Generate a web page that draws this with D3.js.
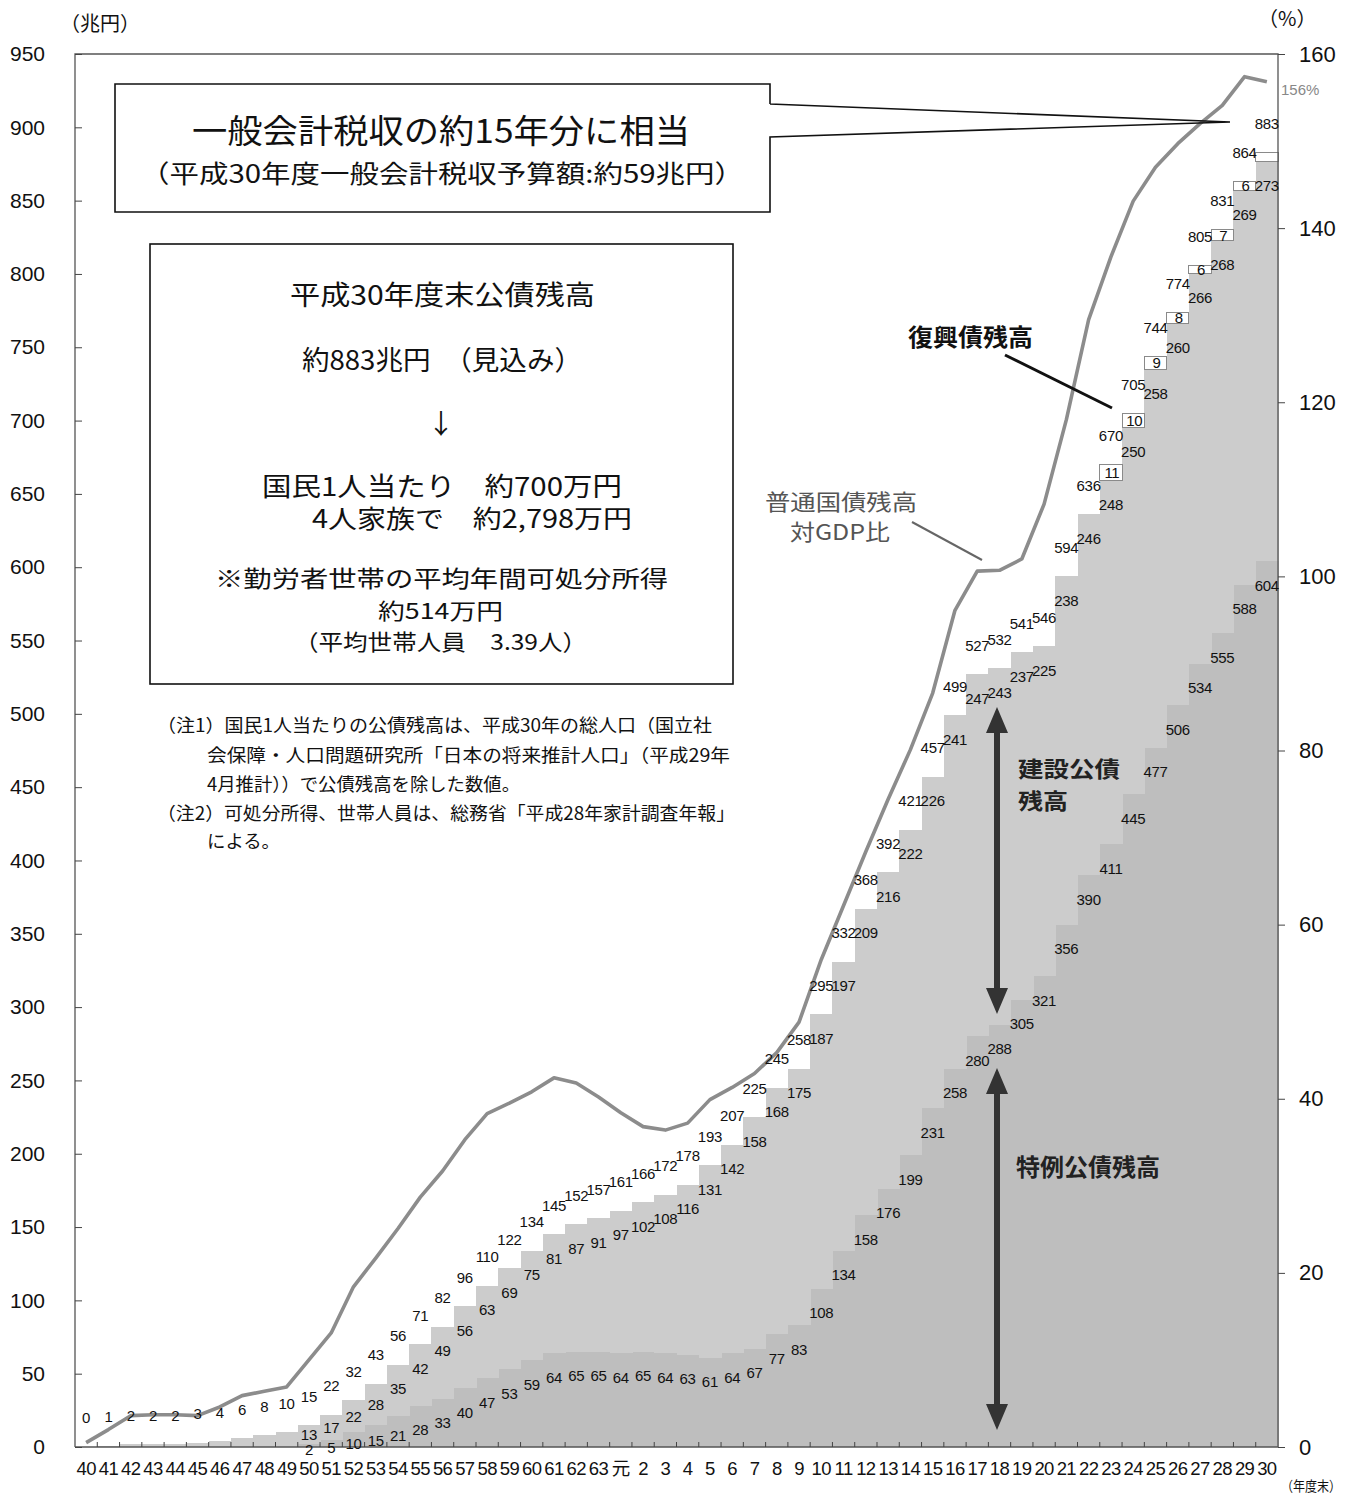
<!DOCTYPE html>
<html><head><meta charset="utf-8">
<script src="https://cdn.jsdelivr.net/npm/d3@7"></script>
<style>body{margin:0;background:#fff}svg{display:block}</style>
</head><body><svg id="c" width="1352" height="1496"></svg>
<script>
// ---- data (兆円 / %) ----
const years = ["40","41","42","43","44","45","46","47","48","49","50","51","52","53","54","55","56","57","58","59","60","61","62","63",
  "元","2","3","4","5","6","7","8","9","10","11","12","13","14","15","16","17","18","19","20","21","22","23","24","25","26","27","28","29","30"];
const construction = [0.3,1,2,2,2,3,4,6,8,10, 13,17,22,28,35,42,49,56,63,69,75,81,87,91,
  97,102,108,116,131,142,158,168,175,187,197,209,216,222,226,241,247,243,237,225,238,246,248,250,258,260,266,268,269,273];
const special = [0,0,0,0,0,0,0,0,0,0, 2,5,10,15,21,28,33,40,47,53,59,64,65,65,
  64,65,64,63,61,64,67,77,83,108,134,158,176,199,231,258,280,288,305,321,356,390,411,445,477,506,534,555,588,604];
const reconstruction = [0,0,0,0,0,0,0,0,0,0, 0,0,0,0,0,0,0,0,0,0,0,0,0,0,
  0,0,0,0,0,0,0,0,0,0,0,0,0,0,0,0,0,0,0,0,0,0,11,10,9,8,6,7,6,6];
const totals = [0,1,2,2,2,3,4,6,8,10, 15,22,32,43,56,71,82,96,110,122,134,145,152,157,
  161,166,172,178,193,207,225,245,258,295,332,368,392,421,457,499,527,532,541,546,594,636,670,705,744,774,805,831,864,883];
const gdpRatio = [0.5,2.0,3.6,3.7,3.7,3.6,4.6,5.9,6.4,6.9, 10.0,13.1,18.4,21.7,25.1,28.7,31.7,35.3,38.3,39.5,40.8,42.4,41.8,40.2,
  38.4,36.8,36.4,37.2,39.9,41.3,42.9,45.3,48.8,56.0,62.2,68.4,74.4,80.1,86.6,96.1,100.6,100.7,102.0,108.3,118.0,129.5,136.7,143.1,147.0,149.7,152.0,154.1,157.4,156.8];
const leftTicks = d3.range(0, 951, 50);
const rightTicks = d3.range(0, 161, 20);

// ---- layout ----
const svg = d3.select("#c");
const L = 75, R = 1278, T = 54, B = 1447;
const NUM = "'Liberation Sans', Arial, sans-serif";
const JP = "'Noto Sans CJK JP', sans-serif";

const x = d3.scaleBand().domain(years).range([L, R]).padding(0);
const y = d3.scaleLinear().domain([0, 950]).range([B, T]);
const y2 = d3.scaleLinear().domain([0, 160]).range([B, T]);
const bw = x.bandwidth();
const cx = yr => x(yr) + bw / 2;

const rows = years.map((yr, i) => ({year: yr, special: special[i], construction: construction[i], reconstruction: reconstruction[i]}));
const series = d3.stack().keys(["special", "construction", "reconstruction"])(rows);
const fills = {special: "#bebebe", construction: "#cccccc", reconstruction: "#ffffff"};

const gBars = svg.append("g").attr("shape-rendering", "crispEdges");
series.forEach(s => {
  gBars.append("g").selectAll("rect").data(s.filter(d => d[1] - d[0] > 0)).join("rect")
    .attr("x", d => x(d.data.year))
    .attr("width", bw + (s.key === "reconstruction" ? 0 : 0.6))
    .attr("y", d => y(d[1]))
    .attr("height", d => y(d[0]) - y(d[1]))
    .attr("fill", fills[s.key])
    .attr("stroke", s.key === "reconstruction" ? "#8a8a8a" : "none")
    .attr("stroke-width", 1);
});

// frame
svg.append("path").attr("d", `M${L},${B}V${T}H${R}V${B}H${L}`).attr("fill", "none").attr("stroke", "#555").attr("stroke-width", 1.3);

// bottom ticks at band boundaries (pointing up)
svg.append("g").selectAll("line").data(years.slice(1)).join("line")
  .attr("x1", d => x(d)).attr("x2", d => x(d)).attr("y1", B).attr("y2", B - 5)
  .attr("stroke", "#444").attr("stroke-width", 1);

// axes
const ax = svg.append("g").attr("transform", `translate(${L},0)`)
  .call(d3.axisLeft(y).tickValues(leftTicks).tickSize(-7).tickPadding(30));
ax.select(".domain").remove();
ax.selectAll("text").attr("font-family", NUM).attr("font-size", 21).attr("fill", "#111");
ax.selectAll("line").attr("stroke", "#444");

const ax2 = svg.append("g").attr("transform", `translate(${R},0)`)
  .call(d3.axisRight(y2).tickValues(rightTicks).tickSize(7).tickPadding(14));
ax2.select(".domain").remove();
ax2.selectAll("text").attr("font-family", NUM).attr("font-size", 22).attr("fill", "#111");
ax2.selectAll("line").attr("stroke", "#444");

const axb = svg.append("g").attr("transform", `translate(0,${B})`)
  .call(d3.axisBottom(x).tickSize(0).tickPadding(15));
axb.select(".domain").remove();
axb.selectAll("text").attr("font-family", d => d === "元" ? JP : NUM).attr("font-size", 18.5).attr("fill", "#111")
  .attr("letter-spacing", -0.6);

// GDP ratio line
svg.append("path").datum(years.map((yr, i) => [cx(yr), y2(gdpRatio[i])]))
  .attr("d", d3.line()).attr("fill", "none").attr("stroke", "#8c8c8c").attr("stroke-width", 3.6)
  .attr("stroke-linejoin", "round");

// value labels
const gl = svg.append("g").attr("font-family", NUM).attr("font-size", 15).attr("fill", "#111")
  .attr("text-anchor", "middle").attr("dominant-baseline", "central").attr("letter-spacing", -0.3);
years.forEach((yr, i) => {
  const top = special[i] + construction[i] + reconstruction[i];
  gl.append("text").attr("x", cx(yr)).attr("y", y(top) - 29).text(totals[i]);
  if (special[i] > 0) {
    const cTop = y(special[i] + construction[i]), cBot = y(special[i]);
    gl.append("text").attr("x", cx(yr)).attr("y", Math.min(cTop + 24, (cTop + cBot) / 2)).text(construction[i]);
    const sTop = y(special[i]);
    gl.append("text").attr("x", cx(yr)).attr("y", Math.min(sTop + 24, (sTop + B) / 2 + 4)).text(special[i]);
  }
  if (reconstruction[i] > 0 && i < years.length - 1) {
    const rb = y(special[i] + construction[i]), rt = y(top);
    gl.append("text").attr("x", cx(yr) + 1).attr("y", (rb + rt) / 2).text(reconstruction[i]);
  }
});

// ---- annotations ----
const ann = svg.append("g");
function txt(s, x0, x1, yy, size, opts = {}) {
  const t = ann.append("text").attr("x", (x0 + x1) / 2).attr("y", yy).attr("text-anchor", "middle")
    .attr("dominant-baseline", "central").attr("font-family", opts.family || JP).attr("font-size", size)
    .attr("fill", opts.fill || "#111").attr("font-weight", opts.weight || "normal").text(s);
  if (!opts.noFit) t.attr("textLength", x1 - x0).attr("lengthAdjust", "spacingAndGlyphs");
  return t;
}
// box 1 with callout
ann.append("path").attr("d", "M770,104 L770,84 L115,84 L115,212 L770,212 L770,137 L1230,122 L770,104")
  .attr("fill", "none").attr("stroke", "#111").attr("stroke-width", 1.6);
txt("一般会計税収の約15年分に相当", 192, 690, 129, 33);
txt("（平成30年度一般会計税収予算額:約59兆円）", 140, 744, 172, 25);

// box 2
ann.append("rect").attr("x", 150).attr("y", 244).attr("width", 583).attr("height", 440)
  .attr("fill", "#fff").attr("stroke", "#111").attr("stroke-width", 1.6);
txt("平成30年度末公債残高", 290, 595, 293, 27);
txt("約883兆円　（見込み）", 302, 582, 358, 27);
txt("↓", 430, 452, 422, 27, {noFit: true});
txt("国民1人当たり　約700万円", 262, 622, 484, 26);
txt("4人家族で　約2,798万円", 312, 632, 517, 25);
txt("※勤労者世帯の平均年間可処分所得", 215, 668, 577, 23);
txt("約514万円", 378, 503, 609, 22);
txt("（平均世帯人員　3.39人）", 294, 587, 640, 22);

// notes
function note(s, x0, x1, yy) {
  ann.append("text").attr("x", x0).attr("y", yy).attr("dominant-baseline", "central")
    .attr("font-family", JP).attr("font-size", 18).attr("fill", "#111")
    .attr("textLength", x1 - x0).attr("lengthAdjust", "spacingAndGlyphs").text(s);
}
note("（注1）国民1人当たりの公債残高は、平成30年の総人口（国立社", 157, 712, 724);
note("会保障・人口問題研究所「日本の将来推計人口」（平成29年", 207, 730, 754);
note("4月推計））で公債残高を除した数値。", 207, 520, 783);
note("（注2）可処分所得、世帯人員は、総務省「平成28年家計調査年報」", 157, 735, 812);
note("による。", 207, 280, 840);

// 復興債残高
txt("復興債残高", 908, 1033, 335, 24, {weight: "bold"});
ann.append("line").attr("x1", 1005).attr("y1", 355).attr("x2", 1112).attr("y2", 408)
  .attr("stroke", "#111").attr("stroke-width", 3);

// 普通国債残高 対GDP比
txt("普通国債残高", 765, 917, 500, 22, {fill: "#555"});
txt("対GDP比", 790, 890, 530, 22, {fill: "#555"});
ann.append("line").attr("x1", 912).attr("y1", 522).attr("x2", 982).attr("y2", 560)
  .attr("stroke", "#666").attr("stroke-width", 2);

// 建設公債残高 / 特例公債残高
ann.append("text").attr("x", 1018).attr("y", 767).attr("dominant-baseline", "central").attr("font-family", JP)
  .attr("font-size", 22).attr("font-weight", "bold").attr("fill", "#222")
  .attr("textLength", 102).attr("lengthAdjust", "spacingAndGlyphs").text("建設公債");
ann.append("text").attr("x", 1018).attr("y", 799).attr("dominant-baseline", "central").attr("font-family", JP)
  .attr("font-size", 22).attr("font-weight", "bold").attr("fill", "#222")
  .attr("textLength", 50).attr("lengthAdjust", "spacingAndGlyphs").text("残高");
ann.append("text").attr("x", 1016).attr("y", 1165).attr("dominant-baseline", "central").attr("font-family", JP)
  .attr("font-size", 24).attr("font-weight", "bold").attr("fill", "#222").text("特例公債残高");

// double arrows
function dblArrow(xc, y0, y1) {
  const hw = 11, hh = 26, sw = 3;
  ann.append("path").attr("fill", "#333").attr("d",
    `M${xc},${y0} L${xc + hw},${y0 + hh} L${xc + sw},${y0 + hh} L${xc + sw},${y1 - hh} L${xc + hw},${y1 - hh} L${xc},${y1}` +
    ` L${xc - hw},${y1 - hh} L${xc - sw},${y1 - hh} L${xc - sw},${y0 + hh} L${xc - hw},${y0 + hh} Z`);
}
dblArrow(997, 707, 1014);
dblArrow(997, 1068, 1430);

// unit labels
ann.append("text").attr("x", 1281).attr("y", 89).attr("dominant-baseline", "central").attr("font-family", NUM)
  .attr("font-size", 15).attr("fill", "#888").text("156%");
ann.append("text").attr("x", 60).attr("y", 22).attr("dominant-baseline", "central").attr("font-family", JP)
  .attr("font-size", 20).attr("fill", "#111").text("（兆円）");
ann.append("text").attr("x", 1258).attr("y", 17).attr("dominant-baseline", "central").attr("font-family", JP)
  .attr("font-size", 20).attr("fill", "#111").text("（%）");
ann.append("text").attr("x", 1281).attr("y", 1485).attr("dominant-baseline", "central").attr("font-family", JP)
  .attr("font-size", 14).attr("fill", "#111").attr("textLength", 60).attr("lengthAdjust", "spacingAndGlyphs")
  .text("（年度末）");
</script></body></html>
